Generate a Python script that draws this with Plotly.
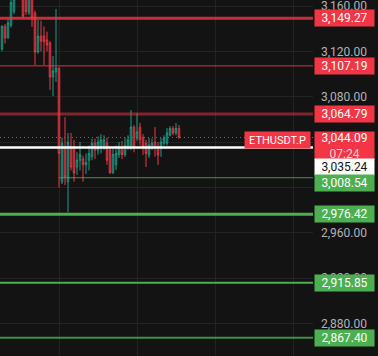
import plotly.graph_objects as go

# ---------------- data ----------------
candle_index = list(range(60))
opens = [3122, 3142, 3132, 3143, 3155, 3168, 3178, 3172, 3166, 3154,
         3170, 3153.8, 3119.4, 3133.5, 3133.5, 3130, 3127.4, 3097.4, 3101.8, 3105,
         3005, 3036, 3005, 3035.7, 3035.7, 3018, 3024, 3025, 3020, 3024,
         3027, 3039, 3033, 3036, 3037, 3039, 3033, 3013, 3020, 3029,
         3035, 3029, 3035, 3035, 3053, 3043.6, 3053, 3044, 3039, 3028.6,
         3035, 3040, 3036, 3035, 3039, 3039, 3046, 3052, 3048, 3052]
highs = [3143, 3144, 3148, 3166, 3172, 3182, 3184, 3176, 3170, 3175,
         3174, 3156, 3147.7, 3147, 3142, 3137.4, 3129, 3115.9, 3157.4, 3106,
         3044, 3062, 3048, 3048, 3042, 3031, 3040, 3028, 3030, 3037,
         3043, 3043, 3045, 3047, 3046, 3044, 3036, 3035, 3037, 3040,
         3041, 3044, 3046, 3068.3, 3055, 3065.6, 3057, 3047, 3042, 3043.6,
         3043, 3053.3, 3040, 3043.6, 3046, 3052.4, 3054, 3054, 3056.8, 3055]
lows = [3120, 3127, 3131, 3141, 3153, 3166, 3167, 3149.5, 3152, 3152,
        3141.5, 3108, 3118, 3120, 3108, 3120, 3086, 3080.6, 3093, 3000,
        3003, 3002, 2978, 3015, 3005, 3011, 3015, 3005, 3012, 3015,
        3024, 3025, 3029, 3030, 3033, 3020, 3012, 3012, 3015.4, 3026,
        3025, 3027, 3033, 3033, 3031, 3041, 3037, 3028.6, 3018, 3026,
        3033, 3027, 3020, 3027, 3037, 3037, 3045, 3046, 3046, 3043]
closes = [3142, 3132, 3145, 3163, 3168, 3178, 3172, 3151, 3155, 3170,
          3149.5, 3119.4, 3133.5, 3129, 3128.5, 3125.6, 3097.4, 3102.7, 3105.3, 3030,
          3039, 3009.2, 3040, 3018, 3012.7, 3024, 3029, 3020, 3022, 3030,
          3039, 3033, 3040, 3042, 3042, 3024, 3013, 3029, 3030, 3035,
          3029, 3037, 3042, 3053.3, 3035, 3049, 3042, 3035.6, 3030, 3037.4,
          3039, 3035, 3028.6, 3040, 3043.6, 3048, 3052, 3048, 3052, 3044.09]

red_levels = [3149.27, 3107.19, 3064.79]
white_level = 3035.24
green_levels = [3008.54, 2976.42, 2915.85, 2867.40]
last_price = 3044.09
symbol = "ETHUSDT.P"
countdown = "07:24"
price_ticks = [2880, 2920, 2960, 3000, 3040, 3080, 3120, 3160]
# 3,000.00 and 3,040.00 sit fully under the price tags in the reference
price_tick_labels = ["2,880.00", "2,920.00", "2,960.00", "",
                     "", "3,080.00", "3,120.00", "3,160.00"]

# ---------------- style ----------------
BG = "#131313"
GRID = "#232323"
RED = "#f23645"
GREEN = "#4caf50"
UP = "#1a9e88"
FONT = "Roboto"

fig = go.Figure()
fig.add_trace(go.Candlestick(
    x=candle_index, open=opens, high=highs, low=lows, close=closes,
    increasing=dict(line=dict(color=UP, width=1), fillcolor="rgba(0,0,0,0)"),
    decreasing=dict(line=dict(color=RED, width=1), fillcolor="rgba(0,0,0,0)"),
    whiskerwidth=0, hoverinfo="skip", showlegend=False,
))

shapes = []
def hline(y, color, width, dash="solid", x0=None):
    if x0 is None:
        shapes.append(dict(type="line", xref="paper", x0=0, x1=1, yref="y", y0=y, y1=y,
                           line=dict(color=color, width=width, dash=dash), layer="above"))
    else:
        shapes.append(dict(type="line", xref="x", x0=x0, x1=103.67, yref="y", y0=y, y1=y,
                           line=dict(color=color, width=width, dash=dash), layer="above"))

red_styles = [("rgba(242,54,69,0.8)", 3), ("rgba(242,54,69,0.9)", 1), ("rgba(242,54,69,0.5)", 3)]
for lv, (c, w) in zip(red_levels, red_styles):
    hline(lv, c, w)
hline(last_price, RED, 1, dash="1px,3px")
hline(white_level, "#ffffff", 2.5)
green_styles = [("rgba(76,175,80,0.85)", 1, 19.1), (GREEN, 3, None),
                (GREEN, 2, None), ("rgba(76,175,80,0.8)", 2, None)]
for lv, (c, w, x0) in zip(green_levels, green_styles):
    hline(lv, c, w, x0=x0)

def fmt(v):
    return f"{v:,.2f}"

ann = []
def tag(y, text, bg, fg, yshift=0, height=16, yanchor="middle"):
    ann.append(dict(xref="paper", x=1, xanchor="left", xshift=1, yref="y", y=y,
                    yanchor=yanchor, yshift=yshift, text=text, showarrow=False,
                    bgcolor=bg, width=59, height=height, borderpad=0,
                    font=dict(family=FONT, size=12, color=fg), align="center"))

for lv in red_levels:
    tag(lv, fmt(lv), RED, "#ffffff")
tag(last_price, fmt(last_price) + "<br>" + f"<span style='color:#fbd0d4'>{countdown}</span>",
    RED, "#ffffff", yshift=6.5, height=28, yanchor="top")
tag(white_level, fmt(white_level), "#ffffff", "#131313", yshift=-19.5)
tag(green_levels[0], fmt(green_levels[0]), GREEN, "#ffffff", yshift=-5.5)
for lv in green_levels[1:]:
    tag(lv, fmt(lv), GREEN, "#ffffff")

ann.append(dict(xref="paper", x=1, xanchor="right", xshift=-2, yref="y", y=last_price,
                yanchor="middle", yshift=-2.5, text=symbol, showarrow=False,
                bgcolor=RED, width=65, height=16, borderpad=0,
                font=dict(family=FONT, size=11, color="#ffffff"), align="center"))

fig.update_layout(
    width=378, height=356, margin=dict(l=0, r=65, t=0, b=0),
    paper_bgcolor=BG, plot_bgcolor=BG, showlegend=False,
    shapes=shapes, annotations=ann, hovermode=False,
    xaxis=dict(range=[-0.667, 103.67], showticklabels=False, showgrid=True,
               gridcolor=GRID, gridwidth=1, tickvals=[19.33, 45.33, 71.33, 97.33],
               zeroline=False, rangeslider=dict(visible=False), fixedrange=True,
               showline=False, ticks=""),
    yaxis=dict(range=[2851.36, 3165.29], side="right", tickvals=price_ticks,
               ticktext=price_tick_labels, showgrid=True, gridcolor=GRID, gridwidth=1,
               zeroline=False, tickfont=dict(family=FONT, size=12, color="#b4b4b4"),
               ticks="", ticklabelstandoff=7, fixedrange=True, showline=False,
               ticklabeloverflow="allow"),
)

fig.write_html("out.html")
